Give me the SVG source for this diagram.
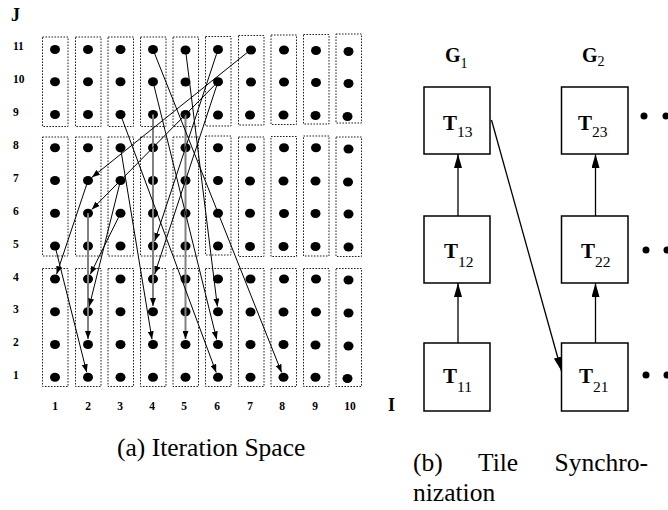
<svg xmlns="http://www.w3.org/2000/svg" width="668" height="510" viewBox="0 0 668 510">
<style>
  text{font-family:"Liberation Serif","Times New Roman",serif;fill:#000}
  .ax{font-weight:bold;font-size:11.5px}
  .axl{font-weight:bold;font-size:18px}
  .tile{fill:none;stroke:#222;stroke-width:1;stroke-dasharray:1.6 1.4}
  .pt{fill:#000}
  .dep{stroke:#000;stroke-width:1;fill:none;marker-end:url(#ah)}
  .gdep{stroke:#808080;stroke-width:2;fill:none;marker-end:url(#ah)}
  .box{fill:#fff;stroke:#000;stroke-width:1.5}
  .sync{stroke:#000;stroke-width:1.3;fill:none;marker-end:url(#ahb)}
  .tb{font-weight:bold;font-size:21px}
  .sub{font-weight:normal;font-size:15.5px}
  .gb{font-weight:bold;font-size:20px}
  .gsub{font-weight:normal;font-size:14px}
  .cap{font-size:25.5px}
</style>
<defs>
  <marker id="ah" markerUnits="userSpaceOnUse" markerWidth="9" markerHeight="6" refX="8" refY="3" orient="auto">
    <path d="M0,0 L8,3 L0,6 z" fill="#000"/>
  </marker>
  <marker id="ahb" markerUnits="userSpaceOnUse" markerWidth="15" markerHeight="9" refX="14" refY="4" orient="auto">
    <path d="M0,0 L14,4 L0,8 z" fill="#000"/>
  </marker>
</defs>

<g id="axes">
  <text class="axl" x="11" y="21">J</text>
  <text class="ax" x="13" y="50">11</text>
  <text class="ax" x="13" y="83">10</text>
  <text class="ax" x="13" y="116">9</text>
  <text class="ax" x="13" y="149">8</text>
  <text class="ax" x="13" y="182">7</text>
  <text class="ax" x="13" y="215">6</text>
  <text class="ax" x="13" y="248">5</text>
  <text class="ax" x="13" y="281">4</text>
  <text class="ax" x="13" y="313">3</text>
  <text class="ax" x="13" y="346">2</text>
  <text class="ax" x="13" y="379">1</text>
  <g text-anchor="middle">
    <text class="ax" x="55" y="410">1</text>
    <text class="ax" x="88" y="410">2</text>
    <text class="ax" x="120" y="410">3</text>
    <text class="ax" x="152" y="410">4</text>
    <text class="ax" x="184" y="410">5</text>
    <text class="ax" x="217" y="410">6</text>
    <text class="ax" x="250" y="410">7</text>
    <text class="ax" x="282" y="410">8</text>
    <text class="ax" x="315" y="410">9</text>
    <text class="ax" x="350" y="410">10</text>
  </g>
  <text class="axl" x="388" y="411">I</text>
</g>

<g id="tiles">
  <rect class="tile" x="42.5" y="37" width="25.5" height="89.5"/>
  <rect class="tile" x="75.5" y="37" width="25.5" height="89.5"/>
  <rect class="tile" x="108" y="37" width="25.5" height="89.5"/>
  <rect class="tile" x="140.5" y="37" width="25.5" height="89.5"/>
  <rect class="tile" x="173" y="37" width="25.5" height="89.5"/>
  <rect class="tile" x="205.5" y="36.5" width="25.5" height="89.5"/>
  <rect class="tile" x="238.5" y="35.5" width="25.5" height="89.5"/>
  <rect class="tile" x="271" y="35" width="25.5" height="89.5"/>
  <rect class="tile" x="303.5" y="34.5" width="25.5" height="89.5"/>
  <rect class="tile" x="336" y="34" width="25.5" height="89"/>

  <rect class="tile" x="42.5" y="137" width="25.5" height="119"/>
  <rect class="tile" x="75.5" y="137" width="25.5" height="119"/>
  <rect class="tile" x="108" y="137" width="25.5" height="119"/>
  <rect class="tile" x="140.5" y="137" width="25.5" height="119"/>
  <rect class="tile" x="173" y="137" width="25.5" height="119"/>
  <rect class="tile" x="205.5" y="136" width="25.5" height="119"/>
  <rect class="tile" x="238.5" y="137" width="25.5" height="119.5"/>
  <rect class="tile" x="271" y="136.5" width="25.5" height="120"/>
  <rect class="tile" x="303.5" y="136" width="25.5" height="120"/>
  <rect class="tile" x="336" y="137" width="25.5" height="119.5"/>

  <rect class="tile" x="42.5" y="268.5" width="25.5" height="118"/>
  <rect class="tile" x="75.5" y="268.5" width="25.5" height="118"/>
  <rect class="tile" x="108" y="268.5" width="25.5" height="118"/>
  <rect class="tile" x="140.5" y="268.5" width="25.5" height="118"/>
  <rect class="tile" x="173" y="268.5" width="25.5" height="118"/>
  <rect class="tile" x="205.5" y="268.5" width="25.5" height="118"/>
  <rect class="tile" x="238.5" y="268.5" width="25.5" height="118"/>
  <rect class="tile" x="271" y="268.5" width="25.5" height="118"/>
  <rect class="tile" x="303.5" y="268.5" width="25.5" height="118"/>
  <rect class="tile" x="336" y="268.5" width="25.5" height="118"/>
</g>

<g id="points">
  <g id="col1"><ellipse class="pt" cx="55" cy="49.5" rx="5" ry="4.5"/><ellipse class="pt" cx="55" cy="81.7" rx="5" ry="4.5"/><ellipse class="pt" cx="55" cy="114.5" rx="5" ry="4.5"/><ellipse class="pt" cx="55" cy="147.7" rx="5" ry="4.5"/><ellipse class="pt" cx="55" cy="180.5" rx="5" ry="4.5"/><ellipse class="pt" cx="55" cy="213.3" rx="5" ry="4.5"/><ellipse class="pt" cx="55" cy="246" rx="5" ry="4.5"/><ellipse class="pt" cx="55" cy="279" rx="5" ry="4.5"/><ellipse class="pt" cx="55" cy="311.7" rx="5" ry="4.5"/><ellipse class="pt" cx="55" cy="344.5" rx="5" ry="4.5"/><ellipse class="pt" cx="55" cy="377.3" rx="5" ry="4.5"/></g>
  <g id="col2"><ellipse class="pt" cx="88" cy="49.5" rx="5" ry="4.5"/><ellipse class="pt" cx="88" cy="81.7" rx="5" ry="4.5"/><ellipse class="pt" cx="88" cy="114.5" rx="5" ry="4.5"/><ellipse class="pt" cx="88" cy="147.7" rx="5" ry="4.5"/><ellipse class="pt" cx="88" cy="180.5" rx="5" ry="4.5"/><ellipse class="pt" cx="88" cy="213.3" rx="5" ry="4.5"/><ellipse class="pt" cx="88" cy="246" rx="5" ry="4.5"/><ellipse class="pt" cx="88" cy="279" rx="5" ry="4.5"/><ellipse class="pt" cx="88" cy="311.7" rx="5" ry="4.5"/><ellipse class="pt" cx="88" cy="344.5" rx="5" ry="4.5"/><ellipse class="pt" cx="88" cy="377.3" rx="5" ry="4.5"/></g>
  <g id="col3"><ellipse class="pt" cx="120.5" cy="49.5" rx="5" ry="4.5"/><ellipse class="pt" cx="120.5" cy="81.7" rx="5" ry="4.5"/><ellipse class="pt" cx="120.5" cy="114.5" rx="5" ry="4.5"/><ellipse class="pt" cx="120.5" cy="147.7" rx="5" ry="4.5"/><ellipse class="pt" cx="120.5" cy="180.5" rx="5" ry="4.5"/><ellipse class="pt" cx="120.5" cy="213.3" rx="5" ry="4.5"/><ellipse class="pt" cx="120.5" cy="246" rx="5" ry="4.5"/><ellipse class="pt" cx="120.5" cy="279" rx="5" ry="4.5"/><ellipse class="pt" cx="120.5" cy="311.7" rx="5" ry="4.5"/><ellipse class="pt" cx="120.5" cy="344.5" rx="5" ry="4.5"/><ellipse class="pt" cx="120.5" cy="377.3" rx="5" ry="4.5"/></g>
  <g id="col4"><ellipse class="pt" cx="153" cy="49.5" rx="5" ry="4.5"/><ellipse class="pt" cx="153" cy="81.7" rx="5" ry="4.5"/><ellipse class="pt" cx="153" cy="114.5" rx="5" ry="4.5"/><ellipse class="pt" cx="153" cy="147.7" rx="5" ry="4.5"/><ellipse class="pt" cx="153" cy="180.5" rx="5" ry="4.5"/><ellipse class="pt" cx="153" cy="213.3" rx="5" ry="4.5"/><ellipse class="pt" cx="153" cy="246" rx="5" ry="4.5"/><ellipse class="pt" cx="153" cy="279" rx="5" ry="4.5"/><ellipse class="pt" cx="153" cy="311.7" rx="5" ry="4.5"/><ellipse class="pt" cx="153" cy="344.5" rx="5" ry="4.5"/><ellipse class="pt" cx="153" cy="377.3" rx="5" ry="4.5"/></g>
  <g id="col5"><ellipse class="pt" cx="185.5" cy="50" rx="5" ry="4.5"/><ellipse class="pt" cx="185.5" cy="82" rx="5" ry="4.5"/><ellipse class="pt" cx="185.5" cy="114.5" rx="5" ry="4.5"/><ellipse class="pt" cx="185.5" cy="147.7" rx="5" ry="4.5"/><ellipse class="pt" cx="185.5" cy="180.5" rx="5" ry="4.5"/><ellipse class="pt" cx="185.5" cy="213.3" rx="5" ry="4.5"/><ellipse class="pt" cx="185.5" cy="246" rx="5" ry="4.5"/><ellipse class="pt" cx="185.5" cy="279" rx="5" ry="4.5"/><ellipse class="pt" cx="185.5" cy="311.7" rx="5" ry="4.5"/><ellipse class="pt" cx="185.5" cy="344.5" rx="5" ry="4.5"/><ellipse class="pt" cx="185.5" cy="377.3" rx="5" ry="4.5"/></g>
  <g id="col6"><ellipse class="pt" cx="218" cy="49.5" rx="5" ry="4.5"/><ellipse class="pt" cx="218" cy="81.7" rx="5" ry="4.5"/><ellipse class="pt" cx="218" cy="115" rx="5" ry="4.5"/><ellipse class="pt" cx="218" cy="147.7" rx="5" ry="4.5"/><ellipse class="pt" cx="218" cy="180.5" rx="5" ry="4.5"/><ellipse class="pt" cx="218" cy="213.3" rx="5" ry="4.5"/><ellipse class="pt" cx="218" cy="246" rx="5" ry="4.5"/><ellipse class="pt" cx="218" cy="279" rx="5" ry="4.5"/><ellipse class="pt" cx="218" cy="311.7" rx="5" ry="4.5"/><ellipse class="pt" cx="218" cy="344.5" rx="5" ry="4.5"/><ellipse class="pt" cx="218" cy="377.3" rx="5" ry="4.5"/></g>
  <g id="col7"><ellipse class="pt" cx="251" cy="50" rx="5" ry="4.5"/><ellipse class="pt" cx="251" cy="82" rx="5" ry="4.5"/><ellipse class="pt" cx="250" cy="115" rx="5" ry="4.5"/><ellipse class="pt" cx="251" cy="147.7" rx="5" ry="4.5"/><ellipse class="pt" cx="250" cy="181" rx="5" ry="4.5"/><ellipse class="pt" cx="250" cy="213.3" rx="5" ry="4.5"/><ellipse class="pt" cx="250" cy="246.5" rx="5" ry="4.5"/><ellipse class="pt" cx="250.5" cy="279" rx="5" ry="4.5"/><ellipse class="pt" cx="250.5" cy="312" rx="5" ry="4.5"/><ellipse class="pt" cx="250.5" cy="344.5" rx="5" ry="4.5"/><ellipse class="pt" cx="250.5" cy="377.3" rx="5" ry="4.5"/></g>
  <g id="col8"><ellipse class="pt" cx="284" cy="50" rx="5" ry="4.5"/><ellipse class="pt" cx="284" cy="82" rx="5" ry="4.5"/><ellipse class="pt" cx="283.5" cy="115" rx="5" ry="4.5"/><ellipse class="pt" cx="284" cy="147.7" rx="5" ry="4.5"/><ellipse class="pt" cx="283.5" cy="181" rx="5" ry="4.5"/><ellipse class="pt" cx="284" cy="213.5" rx="5" ry="4.5"/><ellipse class="pt" cx="283.5" cy="246.5" rx="5" ry="4.5"/><ellipse class="pt" cx="284" cy="279" rx="5" ry="4.5"/><ellipse class="pt" cx="283.5" cy="312" rx="5" ry="4.5"/><ellipse class="pt" cx="283.5" cy="344.5" rx="5" ry="4.5"/><ellipse class="pt" cx="283.5" cy="377.3" rx="5" ry="4.5"/></g>
  <g id="col9"><ellipse class="pt" cx="316" cy="50.5" rx="5" ry="4.5"/><ellipse class="pt" cx="316" cy="82.5" rx="5" ry="4.5"/><ellipse class="pt" cx="315.5" cy="115.5" rx="5" ry="4.5"/><ellipse class="pt" cx="316" cy="147.7" rx="5" ry="4.5"/><ellipse class="pt" cx="315.5" cy="181" rx="5" ry="4.5"/><ellipse class="pt" cx="315.5" cy="213.5" rx="5" ry="4.5"/><ellipse class="pt" cx="315.5" cy="246.5" rx="5" ry="4.5"/><ellipse class="pt" cx="316" cy="279" rx="5" ry="4.5"/><ellipse class="pt" cx="316" cy="312" rx="5" ry="4.5"/><ellipse class="pt" cx="315.5" cy="345" rx="5" ry="4.5"/><ellipse class="pt" cx="315.5" cy="377.3" rx="5" ry="4.5"/></g>
  <g id="col10"><ellipse class="pt" cx="348.5" cy="51.5" rx="5" ry="4.5"/><ellipse class="pt" cx="348.5" cy="83.5" rx="5" ry="4.5"/><ellipse class="pt" cx="347.5" cy="116.5" rx="5" ry="4.5"/><ellipse class="pt" cx="348.5" cy="149" rx="5" ry="4.5"/><ellipse class="pt" cx="348" cy="182" rx="5" ry="4.5"/><ellipse class="pt" cx="348.5" cy="214" rx="5" ry="4.5"/><ellipse class="pt" cx="348.5" cy="247" rx="5" ry="4.5"/><ellipse class="pt" cx="348.5" cy="280" rx="5" ry="4.5"/><ellipse class="pt" cx="348.5" cy="313" rx="5" ry="4.5"/><ellipse class="pt" cx="348.5" cy="346" rx="5" ry="4.5"/><ellipse class="pt" cx="347.5" cy="378.5" rx="5" ry="4.5"/></g>
</g>

<g id="dependences">
  <line class="gdep" x1="88" y1="213.3" x2="88" y2="339"/>
  <line class="gdep" x1="153" y1="114.5" x2="153" y2="306"/>
  <line class="gdep" x1="185.5" y1="114.5" x2="185.5" y2="339"/>
  <line class="dep" x1="251" y1="49.5" x2="92" y2="177.3"/>
  <line class="dep" x1="218" y1="81.7" x2="91.8" y2="209.5"/>
  <line class="dep" x1="88" y1="180.5" x2="56.6" y2="274.2"/>
  <line class="dep" x1="120.5" y1="213.3" x2="90.3" y2="274.3"/>
  <line class="dep" x1="120.5" y1="180.5" x2="89.2" y2="306.6"/>
  <line class="dep" x1="55" y1="246" x2="86.7" y2="372.2"/>
  <line class="dep" x1="218" y1="49.5" x2="154.7" y2="241"/>
  <line class="dep" x1="218" y1="81.7" x2="154.7" y2="274"/>
  <line class="dep" x1="120.5" y1="147.7" x2="152" y2="339.3"/>
  <line class="dep" x1="185.5" y1="49.5" x2="217.4" y2="306.5"/>
  <line class="dep" x1="153" y1="81.7" x2="216.7" y2="339.4"/>
  <line class="dep" x1="120.5" y1="114.5" x2="216.2" y2="372.4"/>
  <line class="dep" x1="153" y1="49.5" x2="281.6" y2="372.4"/>
</g>

<g id="G1"><text class="gb" x="445" y="62">G<tspan class="gsub" dy="6">1</tspan></text></g>
<g id="G2"><text class="gb" x="582" y="62">G<tspan class="gsub" dy="4">2</tspan></text></g>

<g id="T13"><rect class="box" x="424" y="87" width="66" height="67"/><text class="tb" x="443" y="130">T<tspan class="sub" dy="7">13</tspan></text></g>
<g id="T12"><rect class="box" x="424" y="216" width="66" height="67"/><text class="tb" x="444" y="258">T<tspan class="sub" dy="9">12</tspan></text></g>
<g id="T11"><rect class="box" x="424" y="343" width="66" height="68"/><text class="tb" x="443" y="383">T<tspan class="sub" dy="9">11</tspan></text></g>
<g id="T23"><rect class="box" x="561.5" y="87" width="66.5" height="67"/><text class="tb" x="578" y="130">T<tspan class="sub" dy="7">23</tspan></text></g>
<g id="T22"><rect class="box" x="561.5" y="216" width="66.5" height="67"/><text class="tb" x="581" y="258">T<tspan class="sub" dy="9">22</tspan></text></g>
<g id="T21"><rect class="box" x="561.5" y="343" width="66.5" height="68"/><text class="tb" x="579" y="383">T<tspan class="sub" dy="9">21</tspan></text></g>

<g id="ellipsis">
  <circle cx="644" cy="116" r="3.5"/><circle cx="666" cy="116" r="3.5"/>
  <circle cx="646" cy="250" r="3.5"/><circle cx="667" cy="250" r="3.5"/>
  <circle cx="646" cy="375" r="3.5"/><circle cx="667" cy="375" r="3.5"/>
</g>

<g id="sync">
  <line class="sync" x1="458" y1="343" x2="458" y2="283"/>
  <line class="sync" x1="458" y1="216" x2="458" y2="154"/>
  <line class="sync" x1="595.5" y1="343" x2="595.5" y2="283"/>
  <line class="sync" x1="595.5" y1="216" x2="595.5" y2="154"/>
  <line class="sync" x1="491.5" y1="120" x2="561.5" y2="371"/>
</g>

<g id="captions">
  <text class="cap" x="117" y="456">(a) Iteration Space</text>
  <text class="cap" x="413" y="471">(b)</text>
  <text class="cap" x="478" y="471">Tile</text>
  <text class="cap" x="648" y="471" text-anchor="end">Synchro-</text>
  <text class="cap" x="413" y="501">nization</text>
</g>
</svg>
